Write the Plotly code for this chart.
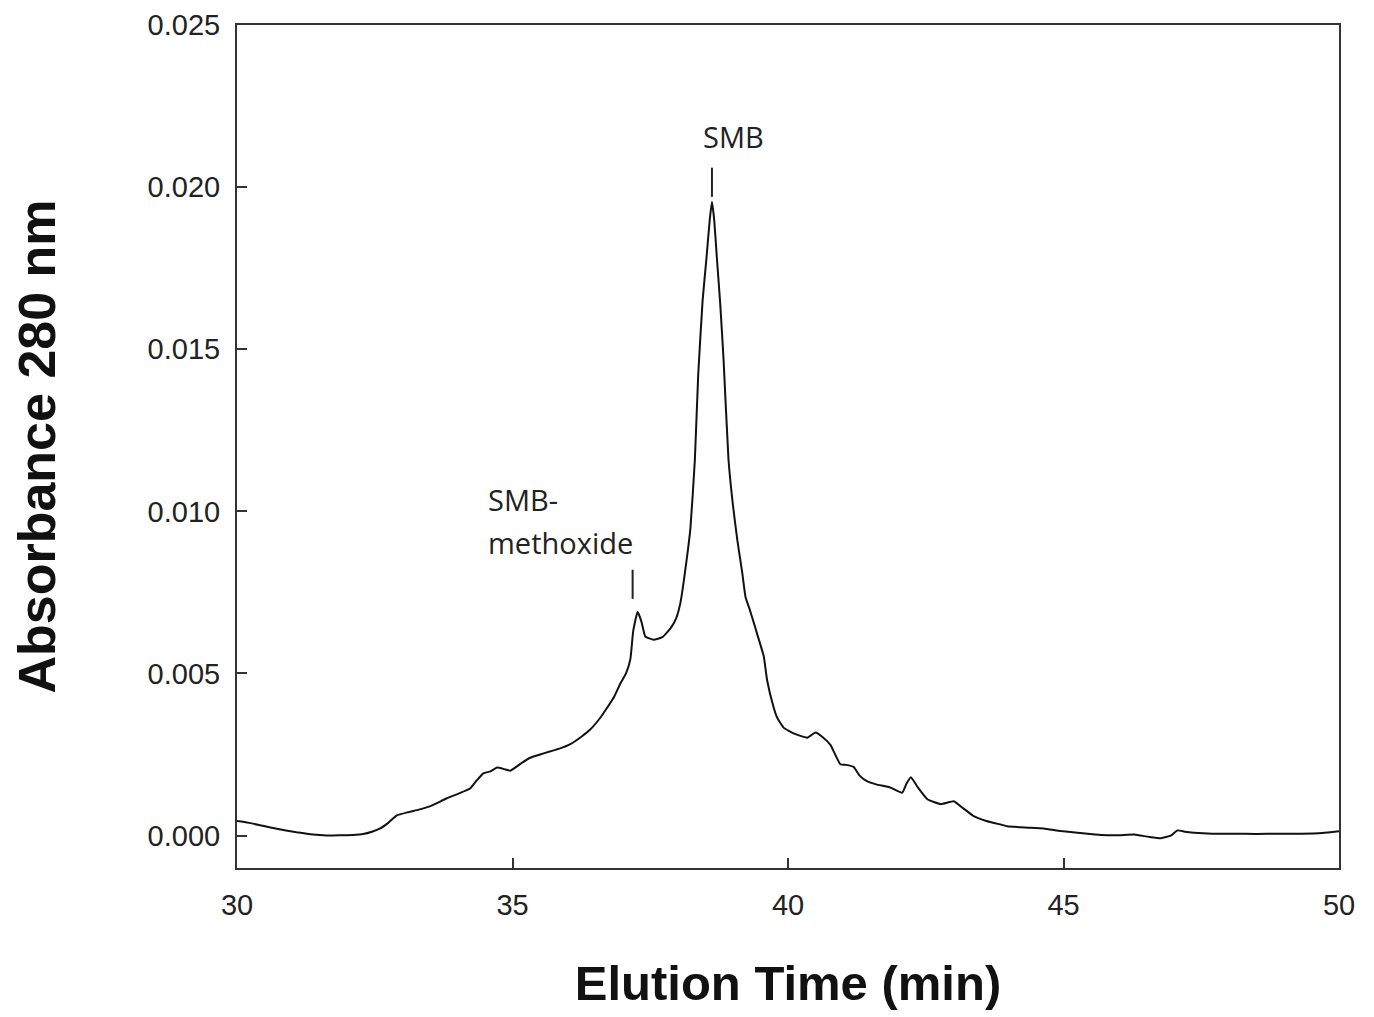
import plotly.graph_objects as go

# elution time (min) and absorbance at 280 nm
time_min = [30.0, 30.2, 30.47, 30.7, 31.08, 31.3, 31.5, 31.69, 31.9, 32.1,
            32.29, 32.45, 32.6, 32.75, 32.9, 33.1, 33.3, 33.5, 33.81, 34.0,
            34.23, 34.35, 34.47, 34.6, 34.72, 34.85, 34.96, 35.15, 35.32, 35.5,
            35.69, 35.85, 36.05, 36.25, 36.41, 36.6, 36.72, 36.85, 36.96, 37.06,
            37.14, 37.19, 37.27, 37.34, 37.41, 37.56, 37.72, 37.87, 37.97, 38.05,
            38.16, 38.23, 38.31, 38.37, 38.45, 38.52, 38.58, 38.62, 38.66, 38.71,
            38.77, 38.83, 38.92, 39.0, 39.08, 39.17, 39.23, 39.3, 39.38, 39.44,
            39.56, 39.62, 39.74, 39.8, 39.92, 40.1, 40.35, 40.5, 40.62, 40.77,
            40.95, 41.05, 41.19, 41.3, 41.44, 41.6, 41.86, 42.07, 42.15, 42.23,
            42.35, 42.53, 42.77, 43.01, 43.15, 43.37, 43.6, 43.86, 43.98, 44.3,
            44.64, 44.95, 45.3, 45.68, 46.0, 46.28, 46.55, 46.77, 46.95, 47.07,
            47.2, 47.37, 47.7, 48.1, 48.5, 48.9, 49.31, 49.7, 50.0]

absorbance = [0.00045, 0.00040, 0.00030, 0.00022, 0.00010, 0.00005, 0.00002, 0.0, 0.00001, 0.00002,
              0.00005, 0.00012, 0.00022, 0.00040, 0.00062, 0.00072, 0.00080, 0.00090, 0.00115, 0.00128,
              0.00145, 0.00170, 0.00192, 0.00198, 0.00210, 0.00205, 0.00200, 0.00222, 0.00240, 0.00250,
              0.00260, 0.00268, 0.00282, 0.00305, 0.00327, 0.00365, 0.00395, 0.00430, 0.00470, 0.00500,
              0.00545, 0.00630, 0.00690, 0.00660, 0.00614, 0.00604, 0.00612, 0.00640, 0.00670, 0.00720,
              0.00850, 0.00950, 0.01160, 0.01420, 0.01650, 0.01780, 0.01900, 0.01955, 0.01900, 0.01780,
              0.01640, 0.01470, 0.01160, 0.01020, 0.00912, 0.00810, 0.00735, 0.00700, 0.00656, 0.00622,
              0.00553, 0.00480, 0.00395, 0.00365, 0.00333, 0.00315, 0.00302, 0.00318, 0.00305, 0.00280,
              0.00220, 0.00218, 0.00212, 0.00185, 0.00167, 0.00158, 0.00148, 0.00132, 0.00160, 0.00180,
              0.00150, 0.00112, 0.00097, 0.00106, 0.00088, 0.00060, 0.00045, 0.00034, 0.00029, 0.00025,
              0.00022, 0.00014, 0.00008, 0.00002, 0.00001, 0.00003, -0.00004, -0.00008, 0.0, 0.00016,
              0.00012, 0.00009, 0.00006, 0.00006, 0.00005, 0.00006, 0.00006, 0.00008, 0.00013]

x_ticks = [30, 35, 40, 45, 50]
y_ticks = [0.000, 0.005, 0.010, 0.015, 0.020, 0.025]

# peak markers: (time, bottom of marker, top of marker)
peak_marks = [(37.18, 0.0073, 0.0082), (38.62, 0.0197, 0.0206)]

lab_font = dict(family="Open Sans", size=29, color="#222222")

fig = go.Figure()
fig.add_trace(go.Scatter(x=time_min, y=absorbance, mode="lines",
                         line=dict(color="#111111", width=2, shape="spline", smoothing=0.4),
                         showlegend=False))

for t, y_bot, y_top in peak_marks:
    fig.add_shape(type="line", xref="x", yref="y", x0=t, x1=t, y0=y_bot, y1=y_top,
                  line=dict(color="#222222", width=2))

fig.add_annotation(x=38.62, y=0.0206, xref="x", yref="y", text="SMB",
                   showarrow=False, yanchor="bottom", yshift=10, xshift=22, font=lab_font)
fig.add_annotation(x=37.18, y=0.0082, xref="x", yref="y", text="methoxide",
                   showarrow=False, yanchor="bottom", xanchor="right", yshift=6, xshift=2,
                   font=lab_font)
fig.add_annotation(x=37.18, y=0.0082, xref="x", yref="y", text="SMB-",
                   showarrow=False, yanchor="bottom", xanchor="left", yshift=49, xshift=-147,
                   font=lab_font)

axis_common = dict(showline=True, linecolor="#333333", linewidth=2, mirror=True,
                   ticks="inside", ticklen=10, tickwidth=2, tickcolor="#333333",
                   showgrid=False, zeroline=False, automargin=False,
                   tickfont=dict(family="Liberation Sans, Arial", size=29, color="#222222"))

fig.update_layout(
    width=1374, height=1017,
    margin=dict(l=229, r=43, t=17, b=157),
    plot_bgcolor="white", paper_bgcolor="white",
    xaxis=dict(range=[30, 50], tickvals=x_ticks, ticklabelstandoff=10,
               title=dict(text="<b>Elution Time (min)</b>", standoff=46,
                          font=dict(family="Liberation Sans, Arial", size=49, color="#111111")),
               **axis_common),
    yaxis=dict(range=[-0.001, 0.025], tickvals=y_ticks, tickformat=".3f", ticklabelstandoff=9,
               title=dict(text="<b>Absorbance 280 nm</b>", standoff=82,
                          font=dict(family="Liberation Sans, Arial", size=52, color="#111111")),
               **axis_common),
)

fig.write_html("out.html")
